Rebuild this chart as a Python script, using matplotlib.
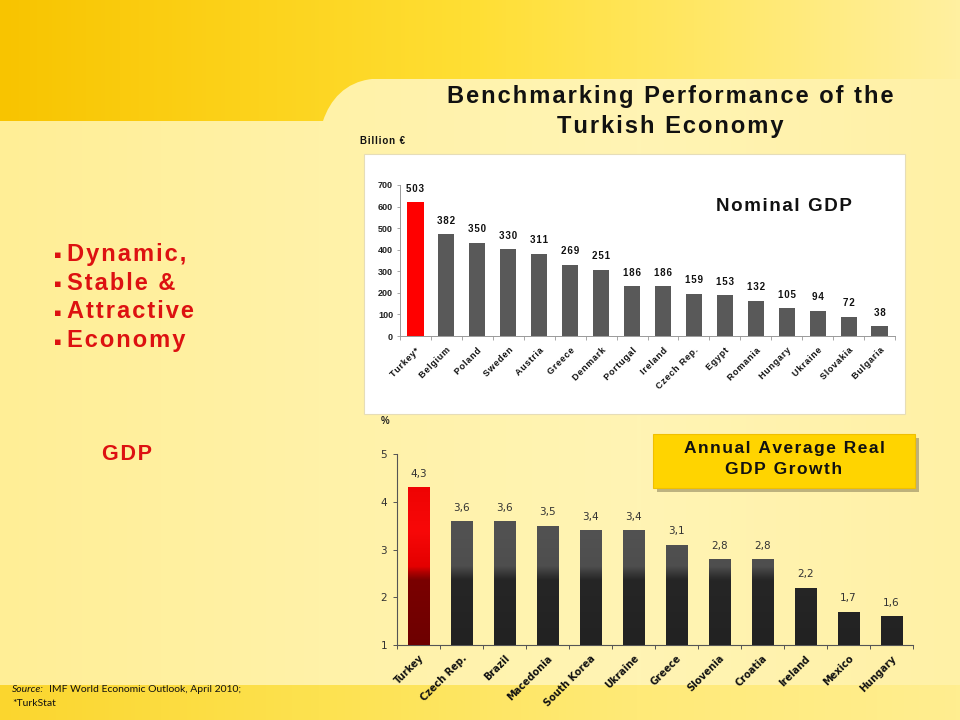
import numpy as np
import matplotlib
matplotlib.use("Agg")
import matplotlib.pyplot as plt
from matplotlib.colors import LinearSegmentedColormap
from matplotlib.patches import Rectangle, PathPatch
from matplotlib.path import Path

#%% data
gdp_countries = ["Turkey*", "Belgium", "Poland", "Sweden", "Austria", "Greece",
                 "Denmark", "Portugal", "Ireland", "Czech Rep.", "Egypt",
                 "Romania", "Hungary", "Ukraine", "Slovakia", "Bulgaria"]
# printed labels (billion EUR)
gdp_labels = [503, 382, 350, 330, 311, 269, 251, 186, 186, 159, 153, 132,
              105, 94, 72, 38]
# bar heights as drawn against the 0-700 axis
gdp_bars = [620, 472, 432, 404, 381, 330, 308, 230, 230, 196, 190, 164,
            130, 118, 89, 45]
gdp_yticks = [0, 100, 200, 300, 400, 500, 600, 700]

growth_countries = ["Turkey", "Czech Rep.", "Brazil", "Macedonia", "South Korea",
                    "Ukraine", "Greece", "Slovenia", "Croatia", "Ireland",
                    "Mexico", "Hungary"]
growth = [4.3, 3.6, 3.6, 3.5, 3.4, 3.4, 3.1, 2.8, 2.8, 2.2, 1.7, 1.6]
growth_yticks = [1, 2, 3, 4, 5]

bullets = ["Dynamic,", "Stable &", "Attractive", "Economy"]

BOLD = ["Liberation Sans", "DejaVu Sans"]
RED_TXT = "#dd1111"


def sp(s):
    # wide letter spacing like the slide font
    return "\u200a".join(s)


def grad_cmap(stops):
    return LinearSegmentedColormap.from_list("g", stops)


fig = plt.figure(figsize=(9.6, 7.2), dpi=100)

#%% background (pixel coords)
bg = fig.add_axes([0, 0, 1, 1])
bg.set_xlim(0, 960)
bg.set_ylim(720, 0)
bg.axis("off")

h = np.linspace(0, 1, 256)[None, :]
bg.imshow(h, cmap=grad_cmap(["#ffee96", "#fff2a8", "#fff4b4", "#fff1a6"]),
          extent=[0, 960, 720, 0], aspect="auto", zorder=0)

# header band with rounded notch
verts = [(0, 0), (960, 0), (960, 79), (372, 79), (345, 82), (330, 100),
         (323, 121), (0, 121), (0, 0)]
codes = [Path.MOVETO, Path.LINETO, Path.LINETO, Path.LINETO, Path.CURVE4,
         Path.CURVE4, Path.CURVE4, Path.LINETO, Path.CLOSEPOLY]
head = PathPatch(Path(verts, codes), facecolor="none", edgecolor="none",
                 transform=bg.transData)
bg.add_patch(head)
im = bg.imshow(h, cmap=grad_cmap(["#f8c400", "#fcd21a", "#ffdf35", "#ffe86a",
                                  "#fff0a0"]),
               extent=[0, 960, 121, 0], aspect="auto", zorder=1)
im.set_clip_path(head)

# bottom band
bg.imshow(h, cmap=grad_cmap(["#fbd62e", "#fde250", "#ffea78", "#ffee90"]),
          extent=[0, 960, 720, 685], aspect="auto", zorder=1)
bg.set_xlim(0, 960)
bg.set_ylim(720, 0)

# white panel for nominal GDP
bg.add_patch(Rectangle((364, 154), 541, 260, facecolor="white",
                       edgecolor="#e6ddb8", lw=0.8, zorder=2))

# growth title box with shadow
bg.add_patch(Rectangle((657, 438), 262, 54, facecolor="#7d7350", alpha=0.5,
                       edgecolor="none", zorder=2))
bg.add_patch(Rectangle((653, 434), 262, 54, facecolor="#ffd400",
                       edgecolor="#f0c000", lw=0.8, zorder=3))
bg.text(784, 449, sp("Annual Average Real"), ha="center", va="center",
        fontsize=12.5, fontweight="bold", family=BOLD, color="#111111", zorder=4)
bg.text(784, 470, sp("GDP Growth"), ha="center", va="center",
        fontsize=12.5, fontweight="bold", family=BOLD, color="#111111", zorder=4)

# titles and side texts
bg.text(670, 97, sp("Benchmarking Performance of the"), ha="center",
        va="center", fontsize=17, fontweight="bold", family=BOLD,
        color="#111111", zorder=4)
bg.text(670, 126, sp("Turkish Economy"), ha="center", va="center",
        fontsize=17, fontweight="bold", family=BOLD, color="#111111",
        zorder=4)
bg.text(360, 141, sp("Billion \u20ac"), ha="left", va="center", fontsize=7,
        fontweight="bold", family=BOLD, color="#111111", zorder=4)
bg.text(381, 421, "%", ha="left", va="center", fontsize=7,
        fontweight="bold", family=BOLD, color="#222222", zorder=4)

for i, b in enumerate(bullets):
    y = 254 + i * 29
    bg.text(54, y + 1, "\u25aa", ha="left", va="center", fontsize=8,
            family=["DejaVu Sans"], color=RED_TXT, zorder=4)
    bg.text(67, y, sp(b), ha="left", va="center", fontsize=17,
            fontweight="bold", family=BOLD, color=RED_TXT, zorder=4)
bg.text(127, 455, sp("GDP"), ha="center", va="center", fontsize=15.5,
        fontweight="bold", family=BOLD, color=RED_TXT, zorder=4)

bg.text(12, 690, "Source:", ha="left", va="center", fontsize=7.5,
        style="italic", family=["Lato", "DejaVu Sans"], color="#111111", zorder=4)
bg.text(49, 690, "IMF World Economic Outlook, April 2010;", ha="left",
        va="center", fontsize=7.5, family=["Lato", "DejaVu Sans"],
        color="#111111", zorder=4)
bg.text(12, 704, "*TurkStat", ha="left", va="center", fontsize=7.5,
        family=["Lato", "DejaVu Sans"], color="#111111", zorder=4)

#%% nominal GDP chart
ax1 = fig.add_axes([400 / 960, 1 - 336 / 720, 495 / 960, 151 / 720])
ax1.patch.set_alpha(0)
x1 = np.arange(len(gdp_countries))
cols = ["#ff0000"] + ["#595959"] * (len(gdp_countries) - 1)
bars1 = ax1.bar(x1, gdp_bars, width=0.52, color=cols, zorder=2)
for b, lab in zip(bars1, gdp_labels):
    ax1.annotate(sp(str(lab)), (b.get_x() + b.get_width() / 2, b.get_height()),
                 xytext=(0, 6), textcoords="offset points", ha="center",
                 va="bottom", fontsize=7, fontweight="bold", family=BOLD,
                 color="#111111")
ax1.set_xlim(-0.5, len(gdp_countries) - 0.5)
ax1.set_ylim(0, 700)
ax1.set_yticks(gdp_yticks)
ax1.set_yticklabels([str(v) for v in gdp_yticks], fontsize=6.5,
                    fontweight="bold", family=BOLD, color="#222222")
ax1.set_xticks(x1)
ax1.set_xticklabels([sp(c) for c in gdp_countries], rotation=45, ha="right",
                    rotation_mode="anchor", fontsize=6.5, fontweight="bold",
                    family=BOLD, color="#111111")
ax1.set_xticks(np.arange(-0.5, len(gdp_countries)), minor=True)
ax1.tick_params(axis="x", which="major", length=0, pad=7)
ax1.tick_params(axis="x", which="minor", length=3, color="#999999", width=0.6)
ax1.tick_params(axis="y", length=2, color="#999999", width=0.6, pad=3)
for s in ["top", "right"]:
    ax1.spines[s].set_visible(False)
for s in ["left", "bottom"]:
    ax1.spines[s].set_color("#999999")
    ax1.spines[s].set_linewidth(0.7)
ax1.text(0.775, 0.86, sp("Nominal GDP"), transform=ax1.transAxes, ha="center",
         va="center", fontsize=13.5, fontweight="bold", family=BOLD,
         color="#111111")

#%% real GDP growth chart
ax2 = fig.add_axes([397 / 960, 1 - 645 / 720, 516 / 960, 191 / 720])
ax2.patch.set_alpha(0)
x2 = np.arange(len(growth_countries))
bars2 = ax2.bar(x2, [g - 1 for g in growth], bottom=1, width=0.49,
                color="#2a2a2a", zorder=2)

grey_cm = grad_cmap([(0.0, "#222222"), (0.34, "#262626"), (0.38, "#3c3c3c"),
                     (0.41, "#4e4e4e"), (0.6, "#525252"), (1.0, "#4a4a4a")])
red_cm = grad_cmap([(0.0, "#6e0000"), (0.34, "#7a0000"), (0.38, "#b00000"),
                    (0.41, "#e40000"), (0.6, "#f80808"), (1.0, "#e80000")])
v = np.linspace(0, 1, 256)[:, None]
for i, b in enumerate(bars2):
    cm = red_cm if i == 0 else grey_cm
    gi = ax2.imshow(v, cmap=cm, origin="lower", aspect="auto",
                    extent=[b.get_x(), b.get_x() + b.get_width(), 1, 5],
                    zorder=3)
    gi.set_clip_path(b)
for xi, g in zip(x2, growth):
    ax2.annotate(f"{g:.1f}".replace(".", ","), (xi, g), xytext=(0, 6),
                 textcoords="offset points", ha="center", va="bottom",
                 fontsize=7.5, family=["DejaVu Sans"], color="#333333",
                 zorder=4)
ax2.set_xlim(-0.5, len(growth_countries) - 0.5)
ax2.set_ylim(1, 5)
ax2.set_yticks(growth_yticks)
ax2.set_yticklabels([str(v) for v in growth_yticks], fontsize=7.5,
                    family=["DejaVu Sans"], color="#333333")
ax2.set_xticks(x2)
ax2.set_xticklabels(growth_countries, rotation=45, ha="right",
                    rotation_mode="anchor", fontsize=7, fontweight="bold",
                    family=["DejaVu Sans"], color="#111111")
ax2.set_xticks(np.arange(-0.5, len(growth_countries)), minor=True)
ax2.tick_params(axis="x", which="major", length=0, pad=6)
ax2.tick_params(axis="x", which="minor", length=3, color="#555555", width=0.7)
ax2.tick_params(axis="y", length=3, color="#555555", width=0.7, pad=4)
for s in ["top", "right"]:
    ax2.spines[s].set_visible(False)
for s in ["left", "bottom"]:
    ax2.spines[s].set_color("#555555")
    ax2.spines[s].set_linewidth(0.8)

fig.savefig("out.png", dpi=100)
